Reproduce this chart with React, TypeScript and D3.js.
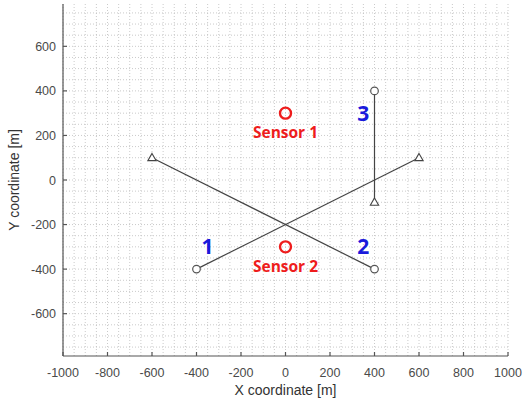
import React from "react";
import * as d3 from "d3";

// Track segments: start (circle) -> end (triangle)
const trackIds = ["1", "2", "3"];
const trackStartX = [-400, 400, 400];
const trackStartY = [-400, -400, 400];
const trackEndX = [600, -600, 400];
const trackEndY = [100, 100, -100];
const trackLabelX = [-350, 350, 350];
const trackLabelY = [-300, -300, 300];

const sensorNames = ["Sensor 1", "Sensor 2"];
const sensorX = [0, 0];
const sensorY = [300, -300];

const xTicks = [-1000, -800, -600, -400, -200, 0, 200, 400, 600, 800, 1000];
const yTicks = [-600, -400, -200, 0, 200, 400, 600];

const W = 524;
const H = 403;
const M = { left: 63, right: 16, top: 4, bottom: 47 };

export default function App() {
  const x = d3.scaleLinear().domain([-1000, 1000]).range([M.left, W - M.right]);
  const y = d3.scaleLinear().domain([-790, 790]).range([H - M.bottom, M.top]);

  const gridX = d3.range(-1000, 1001, 50);
  const gridY = d3.range(-750, 751, 50);
  const tri = d3.symbol().type(d3.symbolTriangle).size(30);

  return (
    <svg
      width={W}
      height={H}
      style={{ position: "absolute", left: 0, top: 0, background: "#fff" }}
      fontFamily="Liberation Sans, Arial, sans-serif"
    >
      {/* grid */}
      <g stroke="#bdbdbd" strokeWidth={0.8} strokeDasharray="1,2">
        {gridX.map((v) => (
          <line key={"gx" + v} x1={x(v)} x2={x(v)} y1={y(790)} y2={y(-790)} />
        ))}
        {gridY.map((v) => (
          <line key={"gy" + v} x1={x(-1000)} x2={x(1000)} y1={y(v)} y2={y(v)} />
        ))}
      </g>

      {/* axes */}
      <g stroke="#555" strokeWidth={1.2} fill="none">
        <line x1={x(-1000)} x2={x(1000)} y1={y(-790)} y2={y(-790)} />
        <line x1={x(-1000)} x2={x(-1000)} y1={y(-790)} y2={y(790)} />
        {xTicks.map((v) => (
          <line key={"xt" + v} x1={x(v)} x2={x(v)} y1={y(-790)} y2={y(-790) - 4} />
        ))}
        {yTicks.map((v) => (
          <line key={"yt" + v} x1={x(-1000)} x2={x(-1000) + 4} y1={y(v)} y2={y(v)} />
        ))}
      </g>
      <g fill="#4a4a4a" fontSize={12.5}>
        {xTicks.map((v) => (
          <text key={"xl" + v} x={x(v)} y={y(-790) + 21} textAnchor="middle">
            {v}
          </text>
        ))}
        {yTicks.map((v) => (
          <text key={"yl" + v} x={x(-1000) - 7} y={y(v) + 4.5} textAnchor="end">
            {v}
          </text>
        ))}
        <text x={x(0)} y={H - 8} textAnchor="middle" fontSize={14} fill="#333">
          X coordinate [m]
        </text>
        <text
          transform={`translate(19,${y(0)}) rotate(-90)`}
          textAnchor="middle"
          fontSize={14}
          fill="#333"
        >
          Y coordinate [m]
        </text>
      </g>

      {/* tracks */}
      {trackIds.map((id, i) => (
        <g key={"tr" + id}>
          <line
            x1={x(trackStartX[i])}
            y1={y(trackStartY[i])}
            x2={x(trackEndX[i])}
            y2={y(trackEndY[i])}
            stroke="#444"
            strokeWidth={1.2}
          />
          <circle
            cx={x(trackStartX[i])}
            cy={y(trackStartY[i])}
            r={3.8}
            fill="#fff"
            stroke="#555"
            strokeWidth={1.2}
          />
          <path
            d={tri() as string}
            transform={`translate(${x(trackEndX[i])},${y(trackEndY[i]) + 0.5})`}
            fill="#fff"
            stroke="#444"
            strokeWidth={1.1}
          />
          <text
            x={x(trackLabelX[i])}
            y={y(trackLabelY[i]) + 7.5}
            textAnchor="middle"
            fill="#1a1adb"
            fontSize={21}
            fontWeight="bold"
            fontFamily="Open Sans, sans-serif"
          >
            {id}
          </text>
        </g>
      ))}

      {/* sensors */}
      {sensorNames.map((name, i) => (
        <g key={name}>
          <circle
            cx={x(sensorX[i])}
            cy={y(sensorY[i])}
            r={5.5}
            fill="none"
            stroke="#ee1c1c"
            strokeWidth={2.4}
          />
          <text
            x={x(sensorX[i])}
            y={y(sensorY[i]) + 25}
            textAnchor="middle"
            fill="#ee1c1c"
            fontSize={15.5}
            fontWeight="bold"
            fontFamily="Open Sans, sans-serif"
          >
            {name}
          </text>
        </g>
      ))}
    </svg>
  );
}
